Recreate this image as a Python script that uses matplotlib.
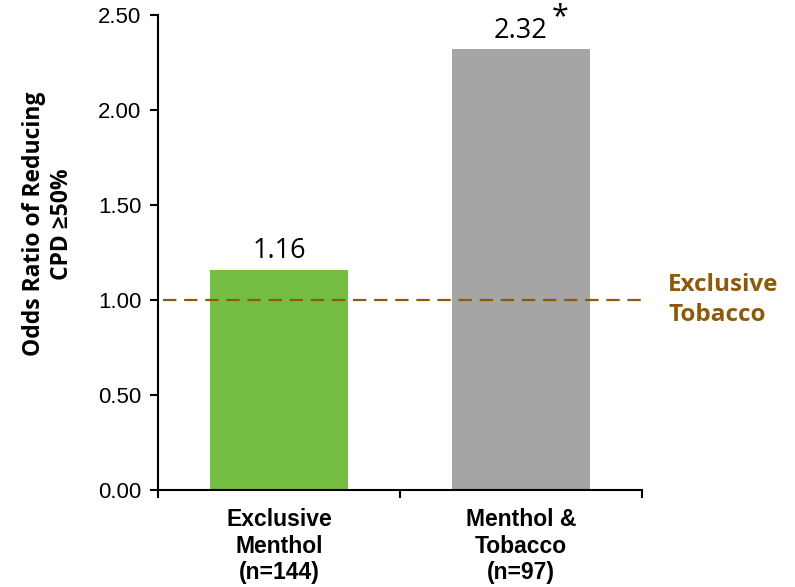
import matplotlib
matplotlib.use("Agg")
import matplotlib.pyplot as plt
from matplotlib.ticker import FormatStrFormatter, FixedLocator

categories = ["Exclusive\nMenthol\n(n=144)", "Menthol &\nTobacco\n(n=97)"]
values = [1.16, 2.32]
value_labels = ["1.16", "2.32"]
significant = [False, True]
bar_colors = ["#76BE43", "#A5A5A5"]
reference_value = 1.0
reference_label = "Exclusive\nTobacco"
yticks = [0.0, 0.5, 1.0, 1.5, 2.0, 2.5]

fig = plt.figure(figsize=(7.95, 5.87), dpi=100)
ax = fig.add_axes([0.1987, 0.1652, 0.6088, 0.8092])

x = list(range(len(categories)))
ax.bar(x, values, width=0.57, color=bar_colors, zorder=2)

ax.set_xlim(-0.5, 1.5)
ax.set_ylim(0, 2.5)
ax.set_yticks(yticks)
ax.yaxis.set_major_formatter(FormatStrFormatter("%.2f"))
ax.set_xticks(x)
ax.set_xticklabels(categories, fontfamily="Liberation Sans", fontweight="bold",
                   fontsize=16.5, linespacing=1.2)
ax.xaxis.set_minor_locator(FixedLocator([-0.5, 0.5, 1.5]))
ax.tick_params(axis="x", which="major", length=0, pad=13)
ax.tick_params(axis="x", which="minor", length=6, width=1.5, direction="out")
ax.tick_params(axis="y", length=6, width=1.5, direction="out", pad=6)
for lab in ax.get_yticklabels():
    lab.set_fontfamily("Liberation Sans")
    lab.set_fontsize(16)

for s in ["top", "right"]:
    ax.spines[s].set_visible(False)
for s in ["left", "bottom"]:
    ax.spines[s].set_linewidth(1.5)
    ax.spines[s].set_color("black")

# reference line
ax.plot([-0.48, 1.5], [reference_value, reference_value], linestyle=(0, (6, 3.5)),
        color="#8C5A0A", linewidth=1.6, zorder=3, clip_on=False)
ax.text(1.608, reference_value, reference_label, transform=ax.transData,
        ha="left", va="center", fontfamily="Open Sans", fontweight="bold",
        fontsize=17.5, color="#8C5A0A", linespacing=1.3, clip_on=False)

for xi, v, lab, sig in zip(x, values, value_labels, significant):
    ax.annotate(lab, (xi, v), xytext=(0, 3), textcoords="offset points",
                ha="center", va="bottom", fontfamily="Open Sans", fontsize=19.5,
                annotation_clip=False)
    if sig:
        ax.annotate("*", (xi, v), xytext=(28, 12), textcoords="offset points",
                    ha="center", va="bottom", fontfamily="Open Sans", fontsize=22,
                    annotation_clip=False)

ax.set_ylabel("Odds Ratio of Reducing\nCPD \u226550%", fontfamily="Open Sans",
              fontweight="bold", fontsize=16.5, linespacing=1.25)
ax.yaxis.set_label_coords(-0.173, 0.56)

fig.savefig("out.png", dpi=100)
